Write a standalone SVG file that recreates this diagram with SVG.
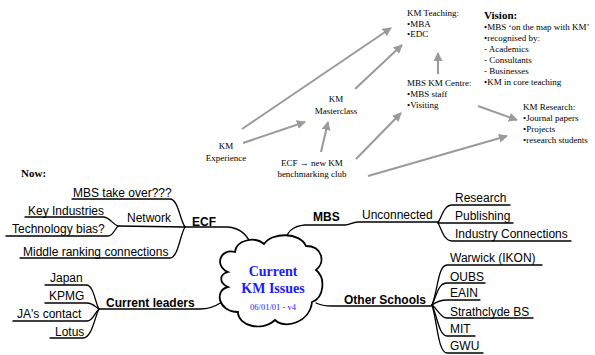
<svg xmlns="http://www.w3.org/2000/svg" width="595" height="355" viewBox="0 0 595 355">
<style>
.s{font-family:"Liberation Serif","Times New Roman",serif;font-size:9px;fill:#000}
.sc{text-anchor:middle}
.h{font-family:"Liberation Serif","Times New Roman",serif;font-size:11px;font-weight:bold;fill:#000}
.m{font-family:"Liberation Sans",Arial,sans-serif;font-size:12px;fill:#000}
.mb{font-family:"Liberation Sans",Arial,sans-serif;font-size:12px;font-weight:bold;fill:#000}
.ln{fill:none;stroke:#000;stroke-width:1.3;stroke-linecap:round}
.ar{fill:none;stroke:#9a9a9a;stroke-width:2;marker-end:url(#ah)}
.ct{font-family:"Liberation Serif","Times New Roman",serif;fill:#1a1aff;text-anchor:middle}
</style>
<defs>
<marker id="ah" viewBox="0 0 10 10" refX="9" refY="5" markerWidth="4.5" markerHeight="4.5" orient="auto" markerUnits="strokeWidth">
<path d="M0 0 L10 5 L0 10 Z" fill="#9a9a9a"/>
</marker>
</defs>
<rect width="595" height="355" fill="#fff"/>

<g id="connectors">
<path class="ar" d="M242 129 L391 28"/>
<path class="ar" d="M243 143 L305 122"/>
<path class="ar" d="M355 89 L402 45"/>
<path class="ar" d="M321 152 L328 122"/>
<path class="ar" d="M356 159 L401 113"/>
<path class="ar" d="M368 176 L507 136"/>
<path class="ar" d="M438 74 L438 53"/>
<path class="ar" d="M478 106 L517 120"/>

<path class="ln" d="M185 227 L228 227 C240 228 246 234 250 242"/>
<path class="ln" d="M72 199 L170 199 C178 199 180 220 185 227"/>
<path class="ln" d="M118 226 L185 227"/>
<path class="ln" d="M25 217 L103 217 C110 217 112 224 118 226"/>
<path class="ln" d="M6 236 L108 236 C113 236 115 229 118 226"/>
<path class="ln" d="M20 258 L170 258 C178 258 180 235 185 227"/>

<path class="ln" d="M99 309 L200 309 C210 309 216 306 222 302"/>
<path class="ln" d="M45 285 L86 285 C94 285 95 303 99 309"/>
<path class="ln" d="M45 303 L87 303 C93 303 95 307 99 309"/>
<path class="ln" d="M13 321 L87 321 C93 321 95 312 99 309"/>
<path class="ln" d="M50 338 L83 338 C92 338 95 316 99 309"/>

<path class="ln" d="M285 244 C286 232 292 226 305 225 L345 225 C350 225 352 222 358 222 L438 222"/>
<path class="ln" d="M438 223 C442 216 444 205 452 205 L510 205"/>
<path class="ln" d="M438 223 L513 223"/>
<path class="ln" d="M438 223 C442 230 444 241 452 241 L571 241"/>

<path class="ln" d="M316 303 C320 305 325 306 332 306 L432 306"/>
<path class="ln" d="M432 305 C438 290 438 265 447 265 L542 265"/>
<path class="ln" d="M432 305 C437 295 438 283 447 283 L485 283"/>
<path class="ln" d="M432 305 C436 302 440 300 447 300 L480 300"/>
<path class="ln" d="M432 305 C437 308 440 318 447 318 L533 318"/>
<path class="ln" d="M432 305 C437 315 439 336 447 336 L475 336"/>
<path class="ln" d="M432 305 C437 320 438 353 447 353 L483 353"/>
</g>

<g id="km-experience"><text class="s sc" x="226" y="149">KM</text><text class="s sc" x="226" y="161">Experience</text></g>
<g id="km-masterclass"><text class="s sc" x="336" y="102">KM</text><text class="s sc" x="336" y="114">Masterclass</text></g>
<g id="ecf-club"><text class="s sc" x="312" y="166">ECF → new KM</text><text class="s sc" x="312" y="177">benchmarking club</text></g>
<g id="km-teaching"><text class="s" x="407" y="16">KM Teaching:</text><text class="s" x="407" y="27">•MBA</text><text class="s" x="407" y="37">•EDC</text></g>
<g id="mbs-km-centre"><text class="s" x="407" y="86">MBS KM Centre:</text><text class="s" x="407" y="97">•MBS staff</text><text class="s" x="407" y="108">•Visiting</text></g>
<g id="km-research"><text class="s" x="523" y="110">KM Research:</text><text class="s" x="523" y="121">•Journal papers</text><text class="s" x="523" y="132">•Projects</text><text class="s" x="523" y="143">•research students</text></g>
<g id="vision"><text class="h" x="484" y="19">Vision:</text>
<text class="s" x="484" y="30">•MBS ‘on the map with KM’</text>
<text class="s" x="484" y="41">•recognised by:</text>
<text class="s" x="484" y="52">- Academics</text>
<text class="s" x="484" y="63">- Consultants</text>
<text class="s" x="484" y="74">- Businesses</text>
<text class="s" x="484" y="85">•KM in core teaching</text></g>
<g id="now"><text class="h" x="21" y="177">Now:</text></g>

<g id="centre">
<path d="M228 272 C214 266 220 248 235 252 C236 240 255 236 264 244 C272 232 300 232 306 246 C322 246 326 262 316 270 C326 278 324 298 312 302 C310 322 285 330 275 320 C262 332 238 326 238 312 C218 312 214 290 228 287 C218 282 220 274 228 272 Z" fill="#fff" stroke="#000" stroke-width="1.8"/>
<text class="ct" x="273" y="276" font-size="14" font-weight="bold">Current</text>
<text class="ct" x="273" y="293" font-size="14" font-weight="bold">KM Issues</text>
<text class="ct" x="273" y="310" font-size="8.5">06/01/01 - v4</text>
</g>

<g id="ecf"><text class="mb" x="192" y="226">ECF</text></g>
<g id="network"><text class="m" x="127" y="222">Network</text></g>
<g id="mbs-take-over"><text class="m" x="73" y="197">MBS take over???</text></g>
<g id="key-industries"><text class="m" x="28" y="215">Key Industries</text></g>
<g id="technology-bias"><text class="m" x="12" y="233">Technology bias?</text></g>
<g id="middle-ranking"><text class="m" x="23" y="256">Middle ranking connections</text></g>

<g id="current-leaders"><text class="mb" x="106" y="307">Current leaders</text></g>
<g id="japan"><text class="m" x="50" y="282">Japan</text></g>
<g id="kpmg"><text class="m" x="49" y="300">KPMG</text></g>
<g id="ja-contact"><text class="m" x="17" y="318">JA's contact</text></g>
<g id="lotus"><text class="m" x="55" y="336">Lotus</text></g>

<g id="mbs"><text class="mb" x="313" y="221">MBS</text></g>
<g id="unconnected"><text class="m" x="362" y="219">Unconnected</text></g>
<g id="research"><text class="m" x="455" y="202">Research</text></g>
<g id="publishing"><text class="m" x="455" y="220">Publishing</text></g>
<g id="industry-connections"><text class="m" x="455" y="238">Industry Connections</text></g>

<g id="other-schools"><text class="mb" x="344" y="304">Other Schools</text></g>
<g id="warwick"><text class="m" x="450" y="262">Warwick (IKON)</text></g>
<g id="oubs"><text class="m" x="450" y="281">OUBS</text></g>
<g id="eain"><text class="m" x="450" y="297">EAIN</text></g>
<g id="strathclyde"><text class="m" x="450" y="316">Strathclyde BS</text></g>
<g id="mit"><text class="m" x="450" y="333">MIT</text></g>
<g id="gwu"><text class="m" x="450" y="350">GWU</text></g>
</svg>
